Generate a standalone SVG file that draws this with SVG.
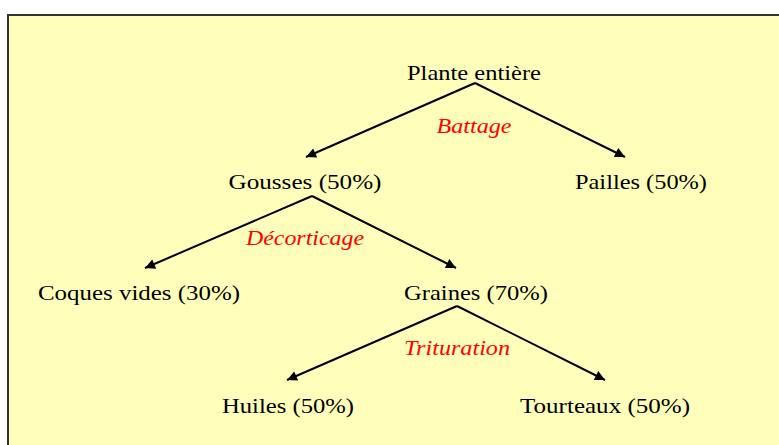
<svg xmlns="http://www.w3.org/2000/svg" width="779" height="445" viewBox="0 0 779 445">
<defs>
<marker id="ah" viewBox="0 0 10 10" refX="10" refY="5" markerWidth="13" markerHeight="10" markerUnits="userSpaceOnUse" orient="auto">
<path d="M0,0 L10,5 L0,10 z" fill="#000"/>
</marker>
<style>
.n{font-family:"Liberation Serif","Times New Roman",serif;font-size:21px;fill:#000;text-anchor:middle}
.l{font-family:"Liberation Serif","Times New Roman",serif;font-size:20px;font-style:italic;fill:#ff0000;text-anchor:middle}
.c{stroke:#000;stroke-width:2;fill:none;marker-end:url(#ah)}
</style>
</defs>
<rect width="779" height="445" fill="#ffffff"/>
<rect x="8" y="15" width="790" height="450" fill="#ffffbb" stroke="#333" stroke-width="2"/>
<g id="connectors">
<line class="c" x1="475" y1="83" x2="306" y2="157"/>
<line class="c" x1="475" y1="83" x2="625" y2="157"/>
<line class="c" x1="312" y1="196" x2="145" y2="268"/>
<line class="c" x1="312" y1="196" x2="456" y2="268"/>
<line class="c" x1="457" y1="306" x2="287" y2="380"/>
<line class="c" x1="457" y1="306" x2="605" y2="380"/>
</g>
<g id="plante"><text class="n" x="474" y="80" textLength="134" lengthAdjust="spacingAndGlyphs">Plante entière</text></g>
<g id="battage"><text class="l" x="474" y="133" textLength="75" lengthAdjust="spacingAndGlyphs">Battage</text></g>
<g id="gousses"><text class="n" x="305" y="189" textLength="153" lengthAdjust="spacingAndGlyphs">Gousses (50%)</text></g>
<g id="pailles"><text class="n" x="641" y="189" textLength="132" lengthAdjust="spacingAndGlyphs">Pailles (50%)</text></g>
<g id="decorticage"><text class="l" x="305" y="245" textLength="118" lengthAdjust="spacingAndGlyphs">Décorticage</text></g>
<g id="coques"><text class="n" x="139" y="300" textLength="202" lengthAdjust="spacingAndGlyphs">Coques vides (30%)</text></g>
<g id="graines"><text class="n" x="476" y="300" textLength="144" lengthAdjust="spacingAndGlyphs">Graines (70%)</text></g>
<g id="trituration"><text class="l" x="457" y="355" textLength="106" lengthAdjust="spacingAndGlyphs">Trituration</text></g>
<g id="huiles"><text class="n" x="288" y="413" textLength="132" lengthAdjust="spacingAndGlyphs">Huiles (50%)</text></g>
<g id="tourteaux"><text class="n" x="605" y="413" textLength="170" lengthAdjust="spacingAndGlyphs">Tourteaux (50%)</text></g>
</svg>
